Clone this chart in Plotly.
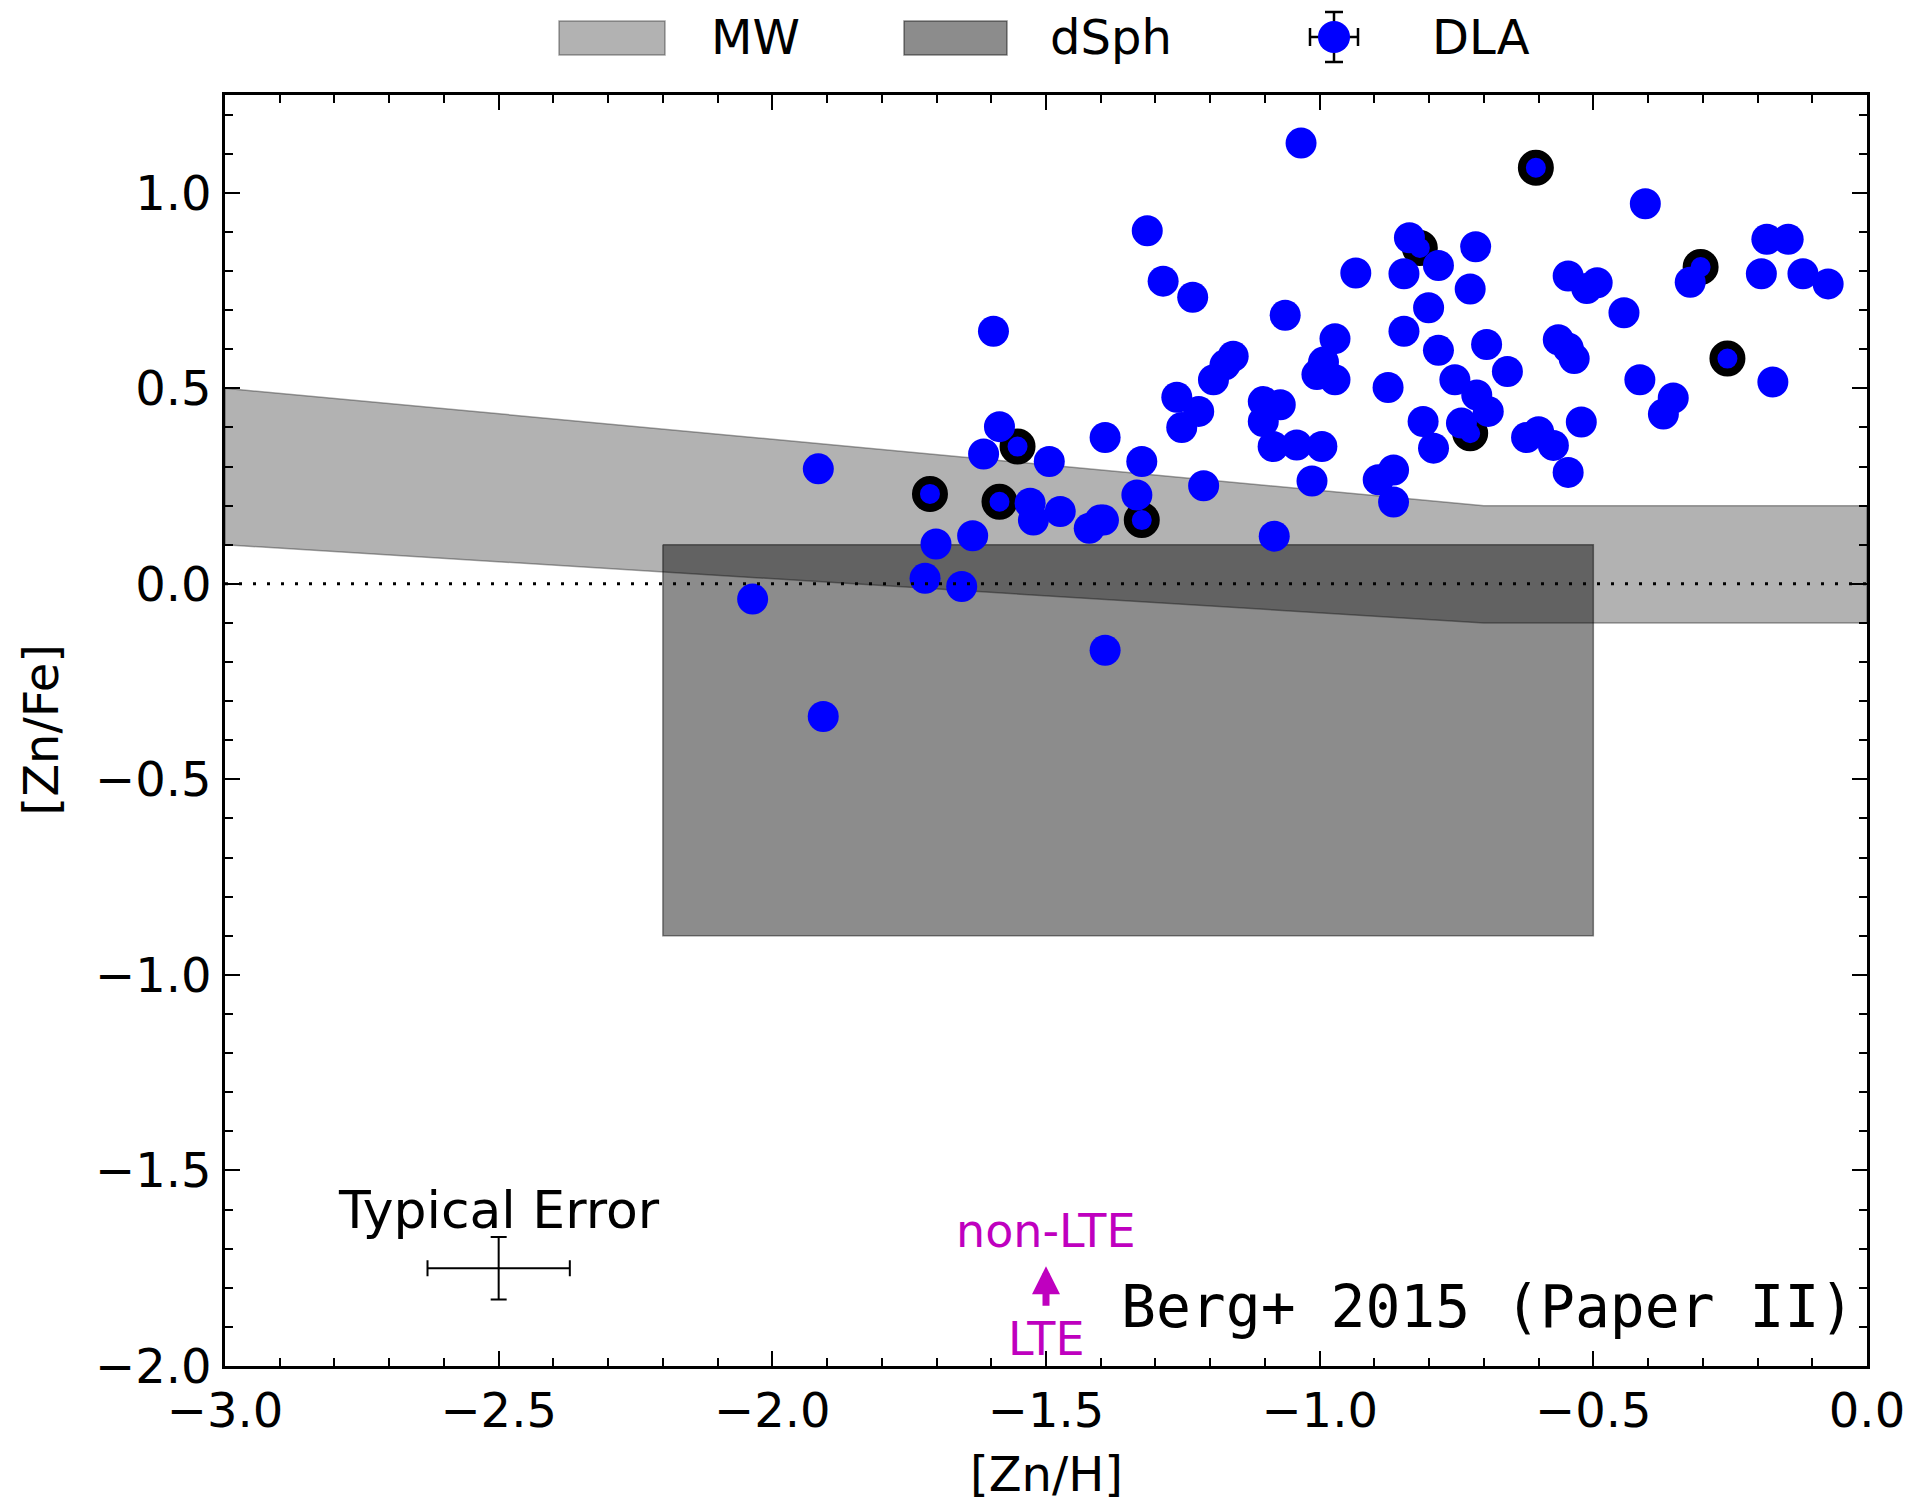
import plotly.graph_objects as go

# ---------------- data ----------------
mw_x = [-3.0, -0.7, 0.0]
mw_upper = [0.5, 0.2, 0.2]
mw_lower = [0.1, -0.1, -0.1]

dsph_x = [-2.2, -0.5]
dsph_y = [-0.9, 0.1]

dla_x = [-1.034, -0.405, -1.315, -1.286, -1.232, -1.063, -0.934, -0.836, -0.846, -0.783,
         -0.715, -0.725, -0.801, -0.846, -0.972, -0.783, -0.695, -0.657, -1.158, -1.173,
         -1.194, -1.261, -1.221, -1.252, -1.005, -0.972, -0.993, -0.875, -1.103, -1.072,
         -1.103, -1.085, -1.042, -0.996, -1.014, -0.811, -0.792, -0.753, -0.713, -0.692,
         -0.741, -0.865, -0.893, -0.865, -1.392, -1.325, -1.334, -1.395, -1.212, -1.083,
         -0.183, -0.144, -0.193, -0.117, -0.071, -0.323, -0.546, -0.512, -0.493, -0.444,
         -0.564, -0.546, -0.535, -0.172, -0.415, -0.354, -0.372, -0.522, -0.622, -0.600,
         -0.573, -0.546, -1.585, -1.614, -1.494, -1.529, -1.523, -1.474, -1.421, -1.401,
         -1.701, -1.634, -1.721, -1.654, -1.392, -1.596, -1.916, -2.036, -1.907]
dla_y = [1.127, 0.972, 0.903, 0.774, 0.733, 0.687, 0.795, 0.885, 0.793, 0.814,
         0.862, 0.754, 0.706, 0.646, 0.627, 0.597, 0.612, 0.543, 0.582, 0.560,
         0.522, 0.477, 0.441, 0.400, 0.535, 0.522, 0.567, 0.502, 0.466, 0.458,
         0.415, 0.351, 0.355, 0.351, 0.263, 0.415, 0.347, 0.522, 0.483, 0.441,
         0.411, 0.291, 0.266, 0.209, 0.374, 0.313, 0.227, 0.163, 0.251, 0.122,
         0.881, 0.881, 0.793, 0.793, 0.767, 0.771, 0.787, 0.755, 0.770, 0.693,
         0.624, 0.603, 0.576, 0.516, 0.522, 0.475, 0.434, 0.414, 0.374, 0.389,
         0.354, 0.285, 0.402, 0.332, 0.313, 0.206, 0.163, 0.185, 0.142, 0.163,
         0.102, 0.123, 0.014, -0.007, -0.170, 0.646, 0.294, -0.039, -0.339]

ring_x = [-0.817, -0.725, -0.605, -0.304, -0.255, -1.712, -1.585, -1.552, -1.325]
ring_y = [0.859, 0.385, 1.064, 0.810, 0.576, 0.230, 0.210, 0.351, 0.163]

err_x = [-2.5]
err_y = [-1.75]
err_dx = [0.13]
err_dy = [0.08]

FONT = "DejaVu Sans"
W, H = 1907, 1502
ML, MR, MT, MB = 225, 40, 95, 136
PW, PH = W - ML - MR, H - MT - MB


def px(X):
    return (X - ML) / PW


def py(Y):
    return (H - MB - Y) / PH


fig = go.Figure()

# MW band
fig.add_trace(go.Scatter(
    x=mw_x + mw_x[::-1] + [mw_x[0]],
    y=mw_upper + mw_lower[::-1] + [mw_upper[0]],
    mode="lines", fill="toself", fillcolor="rgba(0,0,0,0.3)",
    line=dict(color="rgba(0,0,0,0.35)", width=1.5), showlegend=False, hoverinfo="skip"))

# dSph box
fig.add_trace(go.Scatter(
    x=[dsph_x[0], dsph_x[1], dsph_x[1], dsph_x[0], dsph_x[0]],
    y=[dsph_y[1], dsph_y[1], dsph_y[0], dsph_y[0], dsph_y[1]],
    mode="lines", fill="toself", fillcolor="rgba(0,0,0,0.45)",
    line=dict(color="rgba(0,0,0,0.45)", width=1.5), showlegend=False, hoverinfo="skip"))

# ringed DLAs
fig.add_trace(go.Scatter(
    x=ring_x, y=ring_y, mode="markers",
    marker=dict(color="#0000ff", size=28, line=dict(color="black", width=8)),
    showlegend=False))

# DLAs
fig.add_trace(go.Scatter(
    x=dla_x, y=dla_y, mode="markers",
    marker=dict(color="#0000ff", size=31, line=dict(width=0)),
    showlegend=False))

# zero line
fig.add_trace(go.Scatter(
    x=[mw_x[0], mw_x[-1]], y=[0, 0], mode="lines",
    line=dict(color="black", width=3, dash="3px,11px"),
    showlegend=False, hoverinfo="skip"))

# typical error
fig.add_trace(go.Scatter(
    x=err_x, y=err_y, mode="markers",
    marker=dict(color="black", size=2),
    error_x=dict(type="data", array=err_dx, color="black", thickness=2, width=8),
    error_y=dict(type="data", array=err_dy, color="black", thickness=2, width=8),
    showlegend=False))

ann = []
ann.append(dict(x=-2.5, y=-1.6, xref="x", yref="y", text="Typical Error", showarrow=False,
                font=dict(family=FONT, size=52, color="black")))
ann.append(dict(x=-1.5, y=-1.655, xref="x", yref="y", text="non-LTE", showarrow=False,
                font=dict(family=FONT, size=46, color="#bf00bf")))
ann.append(dict(x=-1.5, y=-1.93, xref="x", yref="y", text="LTE", showarrow=False,
                font=dict(family=FONT, size=46, color="#bf00bf")))
ann.append(dict(x=-1.5, y=-1.745, ax=-1.5, ay=-1.85, xref="x", yref="y", axref="x", ayref="y",
                text="", showarrow=True, arrowhead=2, arrowsize=0.8, arrowwidth=7,
                arrowcolor="#bf00bf"))
ann.append(dict(x=-1.367, y=-1.85, xref="x", yref="y", xanchor="left", text="Berg+ 2015 (Paper II)",
                showarrow=False, font=dict(family="DejaVu Sans Mono", size=58, color="black")))

# axis titles
ann.append(dict(x=0.5, y=py(1474), xref="paper", yref="paper", xanchor="center", yanchor="middle",
                text="[Zn/H]", showarrow=False,
                font=dict(family=FONT, size=48, color="black")))
ann.append(dict(x=px(40), y=0.5, xref="paper", yref="paper", xanchor="center", yanchor="middle",
                text="[Zn/Fe]", showarrow=False,
                textangle=-90, font=dict(family=FONT, size=48, color="black")))

# manual legend
shapes = []
shapes.append(dict(type="rect", xref="paper", yref="paper", x0=px(559), x1=px(665), y0=py(55), y1=py(21),
                   fillcolor="rgba(0,0,0,0.3)", line=dict(color="rgba(0,0,0,0.35)", width=1.5)))
shapes.append(dict(type="rect", xref="paper", yref="paper", x0=px(904), x1=px(1007), y0=py(55), y1=py(21),
                   fillcolor="rgba(0,0,0,0.45)", line=dict(color="rgba(0,0,0,0.45)", width=1.5)))
cx, cy = 1334, 37
shapes.append(dict(type="line", xref="paper", yref="paper", x0=px(cx - 24), x1=px(cx + 24), y0=py(cy), y1=py(cy),
                   line=dict(color="black", width=2.5)))
shapes.append(dict(type="line", xref="paper", yref="paper", x0=px(cx), x1=px(cx), y0=py(cy - 25), y1=py(cy + 25),
                   line=dict(color="black", width=2.5)))
for dx in (-24, 24):
    shapes.append(dict(type="line", xref="paper", yref="paper", x0=px(cx + dx), x1=px(cx + dx),
                       y0=py(cy - 9), y1=py(cy + 9), line=dict(color="black", width=2.5)))
for dy in (-25, 25):
    shapes.append(dict(type="line", xref="paper", yref="paper", x0=px(cx - 9), x1=px(cx + 9),
                       y0=py(cy + dy), y1=py(cy + dy), line=dict(color="black", width=2.5)))
shapes.append(dict(type="circle", xref="paper", yref="paper", x0=px(cx - 16), x1=px(cx + 16),
                   y0=py(cy + 16), y1=py(cy - 16), fillcolor="#0000ff", line=dict(width=0)))
for label, X in (("MW", 709), ("dSph", 1048), ("DLA", 1430)):
    ann.append(dict(x=px(X), y=py(cy), xref="paper", yref="paper", xanchor="left", yanchor="middle",
                    text=label, showarrow=False, font=dict(family=FONT, size=48, color="black")))

axis_common = dict(
    ticks="inside", ticklen=15, tickwidth=1.5, tickcolor="black",
    showline=True, linewidth=2.5, linecolor="black", mirror="ticks",
    showgrid=False, zeroline=False, tickformat=".1f",
    tickfont=dict(family=FONT, size=48, color="black"),
)

fig.update_layout(
    width=W, height=H,
    margin=dict(l=ML, r=MR, t=MT, b=MB, autoexpand=False),
    plot_bgcolor="white", paper_bgcolor="white",
    font=dict(family=FONT, color="black"),
    xaxis=dict(range=[-3, 0], tick0=-3, dtick=0.5, ticklabelstandoff=1,
               minor=dict(dtick=0.1, ticks="inside", ticklen=8, tickwidth=1.5, tickcolor="black", showgrid=False),
               **axis_common),
    yaxis=dict(range=[-2, 1.25], tick0=-2, dtick=0.5, ticklabelstandoff=1,
               minor=dict(dtick=0.1, ticks="inside", ticklen=8, tickwidth=1.5, tickcolor="black", showgrid=False),
               **axis_common),
    annotations=ann, shapes=shapes, showlegend=False,
)

fig.write_html("out.html")
